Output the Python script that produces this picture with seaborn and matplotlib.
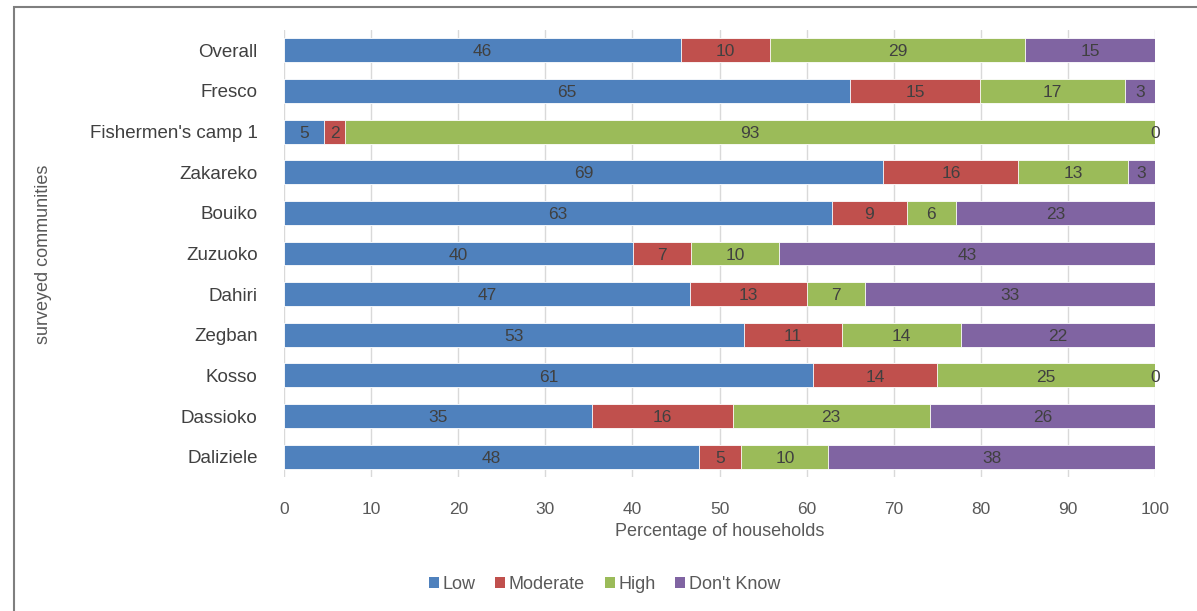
import numpy as np
import pandas as pd
import matplotlib
matplotlib.use("Agg")
import matplotlib.pyplot as plt
import seaborn as sns
from matplotlib.patches import Rectangle, Patch

# data (percent of households)
communities = ["Overall", "Fresco", "Fishermen's camp 1", "Zakareko", "Bouiko",
               "Zuzuoko", "Dahiri", "Zegban", "Kosso", "Dassioko", "Daliziele"]
low = [45.6, 65.0, 4.6, 68.8, 62.9, 40.1, 46.6, 52.8, 60.7, 35.4, 47.6]
moderate = [10.2, 14.9, 2.4, 15.5, 8.6, 6.6, 13.4, 11.2, 14.3, 16.1, 4.9]
high = [29.3, 16.7, 93.0, 12.6, 5.6, 10.1, 6.7, 13.7, 25.0, 22.6, 10.0]
dont_know = [14.9, 3.4, 0.0, 3.1, 22.9, 43.2, 33.3, 22.3, 0.0, 25.9, 37.5]

levels = ["Low", "Moderate", "High", "Don't Know"]
colors = ["#4F81BD", "#C0504D", "#9BBB59", "#8064A2"]

df = pd.DataFrame({"community": communities, "Low": low, "Moderate": moderate,
                   "High": high, "Don't Know": dont_know})
cum = df[levels].cumsum(axis=1)

sns.set_theme(style="white")
plt.rcParams["font.family"] = ["Liberation Sans", "DejaVu Sans"]

fig = plt.figure(figsize=(11.97, 6.11), dpi=100)
ax = fig.add_axes([0.2373, 0.2193, 0.7277, 0.7316])

# stacked bars: draw cumulative totals from the top level down
for lev, col in reversed(list(zip(levels, colors))):
    sns.barplot(x=cum[lev], y=df["community"], orient="h", color=col,
                saturation=1, width=0.59, edgecolor="white", linewidth=0.6,
                ax=ax, zorder=2)

# segment labels
for i in range(len(df)):
    start = 0
    for lev in levels:
        v = df.loc[i, lev]
        ax.text(start + v / 2, i + 0.04, f"{v:.0f}", ha="center", va="center",
                fontsize=12.5, color="#404040", zorder=3)
        start += v

ax.set_xlim(0, 100)
ax.set_xticks(range(0, 101, 10))
ax.set_ylim(len(df) - 0.5, -0.5)
ax.grid(axis="x", color="#D9D9D9", linewidth=1)
ax.set_axisbelow(True)
for s in ax.spines.values():
    s.set_visible(False)
ax.tick_params(axis="y", length=0, pad=19, labelsize=13.5, labelcolor="#404040")
ax.tick_params(axis="x", length=0, pad=18, labelsize=12.5, labelcolor="#595959")
ax.set_ylabel("")
ax.set_xlabel("Percentage of households", fontsize=13, color="#595959", labelpad=4)

fig.text(44 / 1197, 0.584, "surveyed communities", rotation=90, ha="center",
         va="center", fontsize=13, color="#595959")

handles = [Patch(facecolor=c, edgecolor="none") for c in colors]
fig.legend(handles, levels, loc="center", bbox_to_anchor=(0.505, 0.044), ncol=4,
           frameon=False, fontsize=13, handlelength=0.55, handleheight=0.55,
           handletextpad=0.2, columnspacing=1.1, labelcolor="#595959")

# outer chart frame
fig.patches.append(Rectangle((14 / 1197, -0.05), 1.1, 1 - 7 / 611 + 0.05,
                             transform=fig.transFigure, fill=False,
                             edgecolor="#7F7F7F", linewidth=1.5))

fig.savefig("out.png", dpi=100)
